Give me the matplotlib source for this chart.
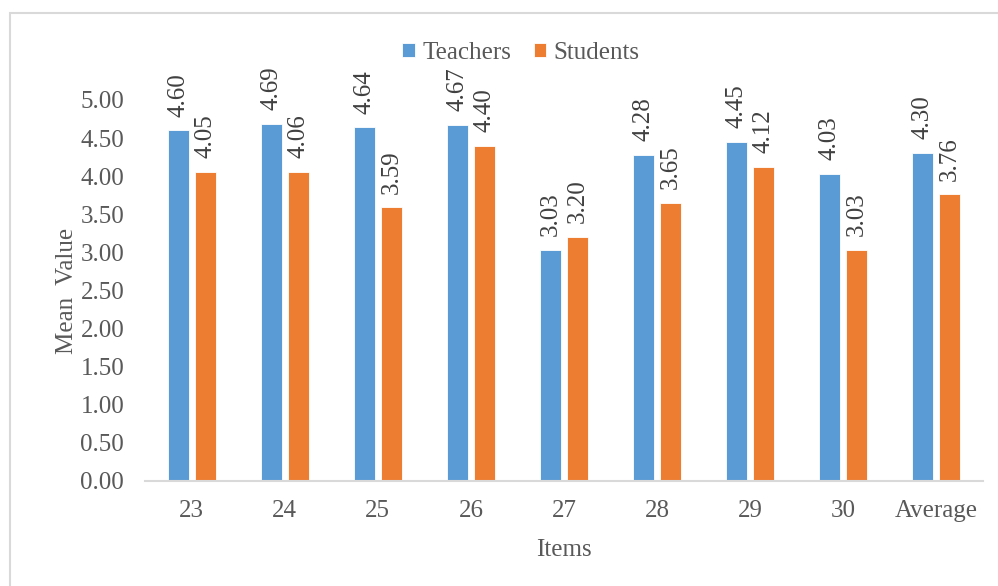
# Teachers vs Students mean values chart
import numpy as np
from matplotlib import pyplot as plt
from matplotlib.patches import Rectangle

plt.rcParams['font.family'] = ['Liberation Serif', 'DejaVu Serif']

# data
items = ["23", "24", "25", "26", "27", "28", "29", "30", "Average"]
teachers = [4.60, 4.69, 4.64, 4.67, 3.03, 4.28, 4.45, 4.03, 4.30]
students = [4.05, 4.06, 3.59, 4.40, 3.20, 3.65, 4.12, 3.03, 3.76]
y_ticks = [0.0, 0.5, 1.0, 1.5, 2.0, 2.5, 3.0, 3.5, 4.0, 4.5, 5.0]

BLUE = "#5B9BD5"
ORANGE = "#ED7D31"
TEXT = "#595959"
FS = 18

fig = plt.figure(figsize=(9.98, 5.86), dpi=100)
ax = fig.add_axes([0.1453, 0.1792, 0.8397, 0.6502])

# figure border (light gray, runs off right and bottom edges)
fig.patches.append(Rectangle((10 / 998, -0.1), 1.2, 1.1 - 13 / 586,
                             transform=fig.transFigure, fill=False,
                             edgecolor="#D9D9D9", linewidth=1.5, zorder=0))

x = np.arange(len(items))
w = 0.225
off = 0.145
b1 = ax.bar(x - off, teachers, w, color=BLUE, edgecolor="white",
            linewidth=0.6, label="Teachers")
b2 = ax.bar(x + off, students, w, color=ORANGE, edgecolor="white",
            linewidth=0.6, label="Students")

# ラベル
for bars, vals in [(b1, teachers), (b2, students)]:
    for r, v in zip(bars, vals):
        ax.annotate("{:.2f}".format(v), (r.get_x() + r.get_width() / 2, v),
                    xytext=(0, 10), textcoords="offset points",
                    rotation=90, ha="center", va="bottom",
                    fontsize=FS, color="#404040")

ax.set_xlim(-0.5, len(items) - 0.5)
ax.set_ylim(0, 5)
ax.set_yticks(y_ticks)
ax.set_yticklabels(["{:.2f}".format(t) for t in y_ticks])
ax.set_xticks(x)
ax.set_xticklabels(items)
ax.tick_params(axis="both", length=0, labelsize=FS, labelcolor=TEXT)
ax.tick_params(axis="y", pad=15)
ax.tick_params(axis="x", pad=14)

for s in ["top", "right", "left"]:
    ax.spines[s].set_visible(False)
ax.spines["bottom"].set_color("#D9D9D9")
ax.spines["bottom"].set_linewidth(1.5)

ax.set_ylabel("Mean  Value", fontsize=FS, color=TEXT, labelpad=2)
ax.set_xlabel("Items", fontsize=FS, color=TEXT, labelpad=12)

# 凡例 (左寄り)
fig.legend(loc="center", bbox_to_anchor=(521 / 998, 1 - 53 / 586), ncol=2,
           frameon=False, fontsize=FS, labelcolor=TEXT,
           handlelength=0.5, handleheight=0.5, handletextpad=0.3,
           columnspacing=0.9, borderaxespad=0)

fig.savefig("out.png", dpi=100)
